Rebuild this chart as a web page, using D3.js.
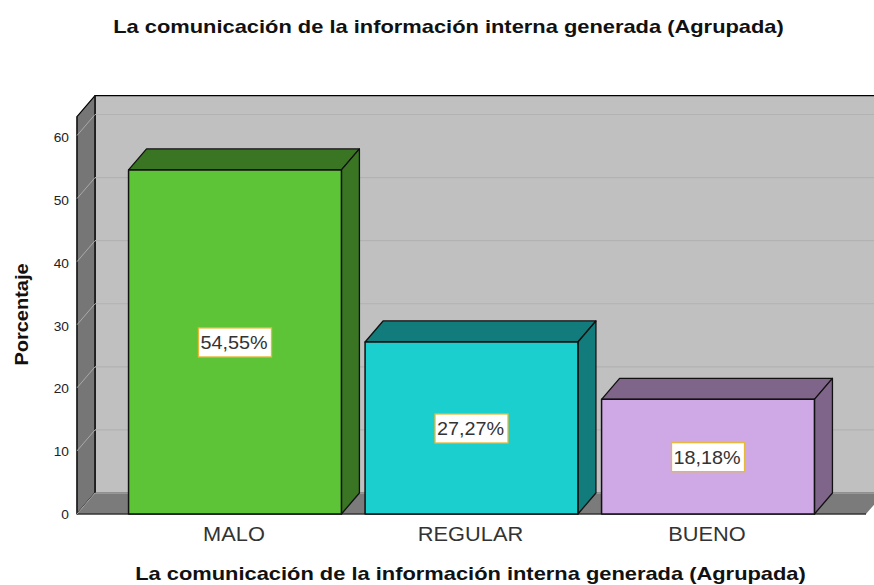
<!DOCTYPE html>
<html><head><meta charset="utf-8">
<script src="https://cdn.jsdelivr.net/npm/d3@7"></script>
<style>html,body{margin:0;background:#fff}svg{display:block}text{font-family:"Liberation Sans",Arial,sans-serif}</style>
</head><body><svg id="c" width="874" height="585"></svg>
<script>
const categories=["MALO","REGULAR","BUENO"];
const values=[54.55,27.27,18.18];
const valueLabels=["54,55%","27,27%","18,18%"];
const frontColors=["#5ec437","#1bcfcf","#cfa9e5"];
const sideColors=["#3a7523","#127b7b","#7f6589"];
const yTicks=[0,10,20,30,40,50,60];
const chartTitle="La comunicación de la información interna generada (Agrupada)";
const yTitle="Porcentaje";

const svg=d3.select("#c");
const dx=18,dy=-21;
const y=d3.scaleLinear().domain([0,60]).range([514,135.5]);
const x=d3.scaleBand().domain(categories).range([77,866]).paddingInner(0.1).paddingOuter(0.218);
const yTop=y(63), x0=77, x1=866;
const poly=(pts,fill,stroke,sw)=>svg.append("path").attr("d",d3.line()(pts)+"Z").attr("fill",fill).attr("stroke",stroke||"none").attr("stroke-width",sw||0).attr("stroke-linejoin","round");
// horizontally stretched text, as in the reference
const label=(sel,str,cx,by,size,sx,attrs={})=>{
  const t=sel.append("text").attr("transform",`translate(${cx},${by}) scale(${sx},1)`).attr("text-anchor","middle").attr("font-size",size).text(str);
  Object.entries(attrs).forEach(([k,v])=>t.attr(k,v));
  return t;
};

// back wall, left wall, floor
poly([[x0+dx,yTop+dy],[x1+dx+10,yTop+dy],[x1+dx+10,514+dy],[x0+dx,514+dy]],"#c0c0c0","#000",1.2);
poly([[x0,yTop],[x0+dx,yTop+dy],[x0+dx,514+dy],[x0,514]],"#767676","#000",1.2);
poly([[x0,514],[x0+dx,514+dy],[x1+dx,514+dy],[x1,514]],"#7b7b7b");
svg.append("line").attr("x1",x0+dx).attr("x2",874).attr("y1",514+dy).attr("y2",514+dy).attr("stroke","#a0a0a0").attr("stroke-width",1.5);
svg.append("line").attr("x1",x0).attr("x2",x1).attr("y1",514).attr("y2",514).attr("stroke","#333").attr("stroke-width",1.5);
svg.append("line").attr("x1",x0).attr("x2",x0).attr("y1",yTop).attr("y2",514).attr("stroke","#222").attr("stroke-width",1.2);
svg.append("line").attr("x1",x0+dx).attr("x2",x0+dx).attr("y1",yTop+dy).attr("y2",514+dy).attr("stroke","#222").attr("stroke-width",1.2);

// gridlines
yTicks.slice(1).forEach(t=>{
  svg.append("line").attr("x1",x0+dx).attr("x2",874).attr("y1",y(t)+dy).attr("y2",y(t)+dy).attr("stroke","#b2b2b2").attr("stroke-width",1.2);
});
yTicks.forEach(t=>{
  svg.append("line").attr("x1",x0).attr("x2",x0+dx).attr("y1",y(t)).attr("y2",y(t)+dy).attr("stroke","#a9a9a9").attr("stroke-width",1);
  const gy=y(0)+(y(t)-y(0))*377/378.5;
  svg.append("text").attr("transform",`translate(69,${gy+5}) scale(1.1,1)`).attr("text-anchor","end").attr("font-size",12.5).attr("fill","#222").text(t);
});

// bars
categories.forEach((c,i)=>{
  const l=x(c), r=l+x.bandwidth(), t=y(values[i]), b=y(0);
  poly([[l,t],[l+dx,t+dy],[r+dx,t+dy],[r,t]],sideColors[i],"#111",1.3);
  poly([[r,t],[r+dx,t+dy],[r+dx,b+dy],[r,b]],sideColors[i],"#111",1.3);
  poly([[l,t],[r,t],[r,b],[l,b]],frontColors[i],"#111",1.5);
  const cx=(l+r)/2, cy=(t+b)/2;
  const w=73,h=29;
  svg.append("rect").attr("x",cx-w/2).attr("y",cy-h/2+0.5).attr("width",w).attr("height",h).attr("fill","#fff").attr("stroke","#e6b93a").attr("stroke-width",1.3);
  label(svg,valueLabels[i],cx-1,cy+7,18,1.1,{fill:"#333"});
  label(svg,c,cx-1,541,20,1.09,{fill:"#333"});
});

// titles
label(svg,chartTitle,448.5,33,18,1.216,{"font-weight":"bold",fill:"#111"});
label(svg,chartTitle,470.5,580,18,1.216,{"font-weight":"bold",fill:"#111"});
svg.append("text").attr("transform","translate(28,314.5) rotate(-90) scale(1.11,1)").attr("text-anchor","middle").attr("font-size",18).attr("font-weight","bold").attr("fill","#111").text(yTitle);
</script></body></html>
